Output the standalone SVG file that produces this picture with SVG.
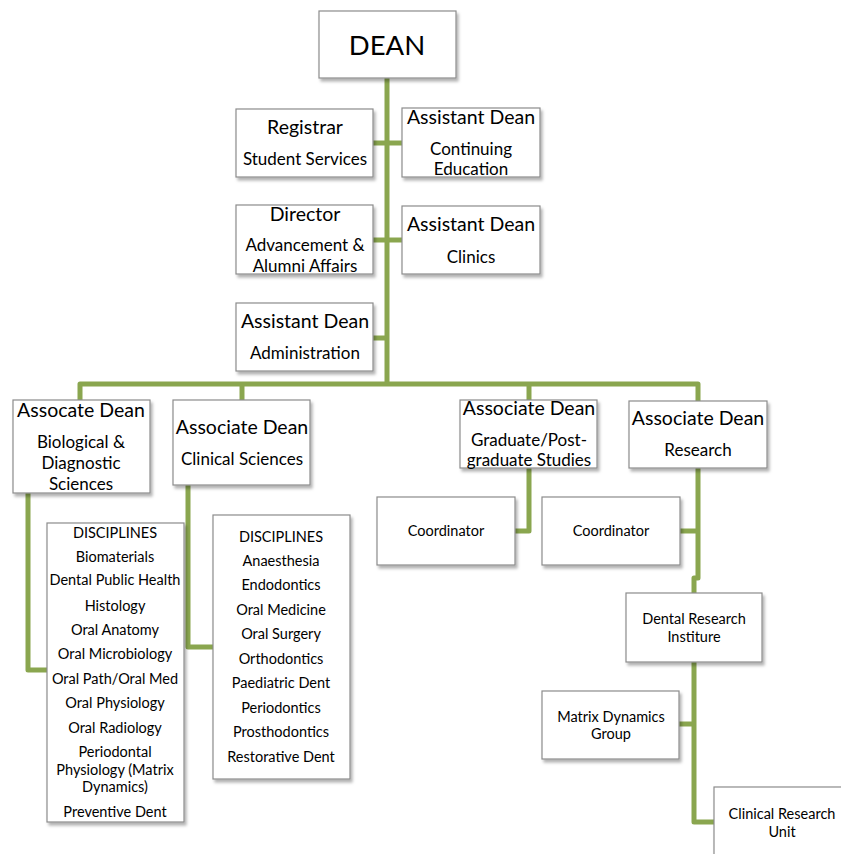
<svg xmlns="http://www.w3.org/2000/svg" width="841" height="854" viewBox="0 0 841 854">
<defs>
<filter id="sh" x="-10%" y="-10%" width="130%" height="130%">
<feDropShadow dx="2" dy="3" stdDeviation="1.5" flood-color="#000" flood-opacity="0.3"/>
</filter>
<style>
.box{fill:#fff;stroke:#8c8c8c;stroke-width:1.2;filter:url(#sh)}
.c{fill:none;stroke:#8aa64f;stroke-width:5;stroke-linejoin:round}
text{font-family:Lato,"Open Sans","Liberation Sans",sans-serif;fill:#000;text-anchor:middle}
.t{font-size:19.5px}
.s{font-size:17px}
.x{font-size:14.5px}
.d{font-size:27.5px}
</style>
</defs>
<rect width="841" height="854" fill="#fff"/>
<g id="connectors">
<path class="c" d="M387,78 V383"/>
<path class="c" d="M373,143 H402"/>
<path class="c" d="M373,240 H402"/>
<path class="c" d="M373,338 H387"/>
<path class="c" d="M80,400 V384 H698 V401"/>
<path class="c" d="M242,384 V400"/>
<path class="c" d="M529,384 V400"/>
<path class="c" d="M28,493 V670 H47"/>
<path class="c" d="M188,485 V647 H213"/>
<path class="c" d="M529,468 V531 H515"/>
<path class="c" d="M698,468 V578 H694 V593"/>
<path class="c" d="M680,531 H698"/>
<path class="c" d="M694,662 V822 H714"/>
<path class="c" d="M679,724 H694"/>
</g>
<g id="dean"><rect class="box" x="319" y="11" width="137" height="67"/><text class="d" x="387" y="55">DEAN</text></g>
<g id="registrar"><rect class="box" x="236" y="109" width="137" height="68"/><text class="t" x="305" y="134">Registrar</text><text class="s" x="305" y="165">Student Services</text></g>
<g id="ad-continuing"><rect class="box" x="402" y="108" width="138" height="69"/><text class="t" x="471" y="124">Assistant Dean</text><text class="s" x="471" y="155">Continuing</text><text class="s" x="471" y="175">Education</text></g>
<g id="director"><rect class="box" x="236" y="205" width="137" height="69"/><text class="t" x="305" y="221">Director</text><text class="s" x="305" y="251">Advancement &amp;</text><text class="s" x="305" y="272">Alumni Affairs</text></g>
<g id="ad-clinics"><rect class="box" x="402" y="206" width="138" height="68"/><text class="t" x="471" y="231">Assistant Dean</text><text class="s" x="471" y="263">Clinics</text></g>
<g id="ad-admin"><rect class="box" x="236" y="303" width="137" height="68"/><text class="t" x="305" y="328">Assistant Dean</text><text class="s" x="305" y="359">Administration</text></g>
<g id="assoc-bio"><rect class="box" x="13" y="400" width="137" height="93"/><text class="t" x="81" y="417">Assocate Dean</text><text class="s" x="81" y="448">Biological &amp;</text><text class="s" x="81" y="469">Diagnostic</text><text class="s" x="81" y="490">Sciences</text></g>
<g id="assoc-clin"><rect class="box" x="173" y="400" width="137" height="85"/><text class="t" x="242" y="434">Associate Dean</text><text class="s" x="242" y="465">Clinical Sciences</text></g>
<g id="assoc-grad"><rect class="box" x="460" y="400" width="137" height="68"/><text class="t" x="529" y="415">Associate Dean</text><text class="s" x="529" y="446">Graduate/Post-</text><text class="s" x="529" y="466">graduate Studies</text></g>
<g id="assoc-res"><rect class="box" x="629" y="401" width="138" height="67"/><text class="t" x="698" y="425">Associate Dean</text><text class="s" x="698" y="456">Research</text></g>
<g id="coord-grad"><rect class="box" x="377" y="497" width="138" height="68"/><text class="x" x="446" y="536">Coordinator</text></g>
<g id="coord-res"><rect class="box" x="542" y="497" width="138" height="68"/><text class="x" x="611" y="536">Coordinator</text></g>
<g id="disc-bio"><rect class="box" x="47" y="523" width="137" height="299"/>
<text class="x" x="115" y="538">DISCIPLINES</text>
<text class="x" x="115" y="562">Biomaterials</text>
<text class="x" x="115" y="585">Dental Public Health</text>
<text class="x" x="115" y="611">Histology</text>
<text class="x" x="115" y="635">Oral Anatomy</text>
<text class="x" x="115" y="659">Oral Microbiology</text>
<text class="x" x="115" y="684">Oral Path/Oral Med</text>
<text class="x" x="115" y="708">Oral Physiology</text>
<text class="x" x="115" y="733">Oral Radiology</text>
<text class="x" x="115" y="757">Periodontal</text>
<text class="x" x="115" y="775">Physiology (Matrix</text>
<text class="x" x="115" y="792">Dynamics)</text>
<text class="x" x="115" y="817">Preventive Dent</text>
</g>
<g id="disc-clin"><rect class="box" x="213" y="515" width="137" height="264"/>
<text class="x" x="281" y="542">DISCIPLINES</text>
<text class="x" x="281" y="566">Anaesthesia</text>
<text class="x" x="281" y="590">Endodontics</text>
<text class="x" x="281" y="615">Oral Medicine</text>
<text class="x" x="281" y="639">Oral Surgery</text>
<text class="x" x="281" y="664">Orthodontics</text>
<text class="x" x="281" y="688">Paediatric Dent</text>
<text class="x" x="281" y="713">Periodontics</text>
<text class="x" x="281" y="737">Prosthodontics</text>
<text class="x" x="281" y="762">Restorative Dent</text>
</g>
<g id="dri"><rect class="box" x="626" y="593" width="136" height="69"/><text class="x" x="694" y="624">Dental Research</text><text class="x" x="694" y="642">Institure</text></g>
<g id="matrix"><rect class="box" x="542" y="691" width="137" height="68"/><text class="x" x="611" y="722">Matrix Dynamics</text><text class="x" x="611" y="739">Group</text></g>
<g id="cru"><rect class="box" x="714" y="787" width="140" height="80"/><text class="x" x="782" y="819">Clinical Research</text><text class="x" x="782" y="837">Unit</text></g>
</svg>
